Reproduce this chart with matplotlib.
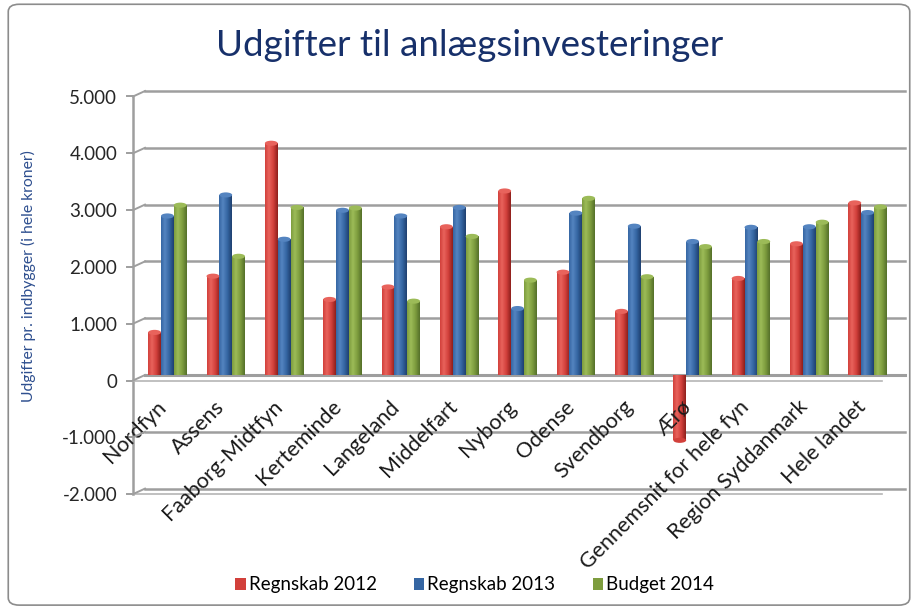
import numpy as np
import matplotlib
matplotlib.use("Agg")
import matplotlib.pyplot as plt
import matplotlib.transforms as mtransforms
from matplotlib.patches import FancyBboxPatch, Ellipse
from matplotlib.colors import LinearSegmentedColormap

categories = ["Nordfyn", "Assens", "Faaborg-Midtfyn", "Kerteminde", "Langeland",
              "Middelfart", "Nyborg", "Odense", "Svendborg", "Ærø",
              "Gennemsnit for hele fyn", "Region Syddanmark", "Hele landet"]
regnskab_2012 = [750, 1740, 4080, 1330, 1550, 2610, 3240, 1810, 1120, -1150, 1700, 2310, 3030]
regnskab_2013 = [2800, 3170, 2390, 2900, 2800, 2950, 1170, 2850, 2620, 2350, 2600, 2610, 2860]
budget_2014 = [2990, 2090, 2950, 2940, 1300, 2440, 1670, 3110, 1730, 2260, 2350, 2690, 2960]
series_names = ["Regnskab 2012", "Regnskab 2013", "Budget 2014"]
yticks = [-2000, -1000, 0, 1000, 2000, 3000, 4000, 5000]
ytick_labels = ["-2.000", "-1.000", "0", "1.000", "2.000", "3.000", "4.000", "5.000"]

# (dark, mid, light) shades for the cylinder look
shades = [("#8E1F1C", "#D2403B", "#E8635C"),
          ("#1F4070", "#3566A3", "#5484C0"),
          ("#55702A", "#7E9D3E", "#9CBB58")]
grid_col = "#9E9E9E"

plt.rcParams['font.family'] = ['Lato', 'DejaVu Sans']

fig = plt.figure(figsize=(9.18, 6.1), dpi=100)
fig.patches.append(FancyBboxPatch((0.009, 0.008), 0.982, 0.985, boxstyle="round,pad=0,rounding_size=0.012",
                                  transform=fig.transFigure, fill=False, edgecolor="#8C8C8C", linewidth=1.2))

# axes = back wall of the pseudo-3D plot; the front axis sits 12 px left and 5.5 px lower
ax = fig.add_axes([145 / 918, (610 - 488.6) / 610, (905 - 145) / 918, (488.6 - 91) / 610])
ax.set_xlim(-0.384, 12.64)
ax.set_ylim(-2000, 5000)
cap_h = 90  # height of the elliptic cap in data units (~5 px)

x = np.arange(len(categories))
w = 0.22
grad = np.linspace(0, 1, 64)
for k, vals in enumerate([regnskab_2012, regnskab_2013, budget_2014]):
    dark, mid, light = shades[k]
    cmap = LinearSegmentedColormap.from_list("c%d" % k, [(0, mid), (0.3, light), (0.65, mid), (1, dark)])
    bars = ax.bar(x + (k - 1) * w, vals, width=w, color=mid, edgecolor="none", zorder=3,
                  label=series_names[k])
    for b, v in zip(bars, vals):
        bx, by = b.get_x(), b.get_y()
        bw, bh = b.get_width(), b.get_height()
        im = ax.imshow(grad[np.newaxis, :], cmap=cmap, aspect="auto", zorder=3.5,
                       extent=(bx, bx + bw, by, by + bh), interpolation="bilinear")
        im.set_clip_path(b)
        ax.add_patch(Ellipse((bx + bw / 2, v), bw, cap_h, facecolor=light if v > 0 else mid,
                             edgecolor="none", zorder=3.6))

ax.set_aspect("auto")
ax.set_xlim(-0.384, 12.64)
ax.set_ylim(-2000, 5000)
ax.set_xticks([])
ax.set_yticks(yticks)
ax.set_yticklabels(ytick_labels, fontsize=13.5, color="#262626")
ax.tick_params(axis="y", length=0, pad=20)
down = mtransforms.ScaledTranslation(0, -5.5 / 100, fig.dpi_scale_trans)
front = mtransforms.ScaledTranslation(-12 / 100, -5.5 / 100, fig.dpi_scale_trans)
for lab in ax.get_yticklabels():
    lab.set_transform(lab.get_transform() + down)
for s in ax.spines.values():
    s.set_visible(False)

# gridlines on the back wall, tick stubs on the front axis, diagonals joining them
yt = ax.get_yaxis_transform()
for v in yticks:
    ax.plot([0.0, 1.0], [v, v], transform=yt, color=grid_col, lw=1.8 if v else 2.2, zorder=1, clip_on=False)
    ax.plot([-0.008, 0.0], [v, v], transform=yt + front, color=grid_col, lw=1.4, zorder=1, clip_on=False)
    p0 = (yt + front).transform((0.0, v))
    p1 = yt.transform((0.0, v))
    fig.add_artist(plt.Line2D([p0[0], p1[0]], [p0[1], p1[1]], transform=None, color=grid_col, lw=1.4))
ax.plot([0.0, 0.0], [-2000, 5000], transform=yt + front, color=grid_col, lw=1.8, zorder=1, clip_on=False)
# front edge of the floor slabs
for v in [0, -2000]:
    ax.plot([0.0, 0.985], [v, v], transform=yt + front, color="#B5B5B5", lw=1.2, zorder=1, clip_on=False)

for i, name in enumerate(categories):
    ax.text(i - 0.2, -380, name, rotation=45, ha="right", va="top", rotation_mode="anchor",
            fontsize=15.5, color="#1A1A1A", zorder=5)

ax.set_ylabel("Udgifter pr. indbygger (i hele kroner)", fontsize=11.3, color="#2E4F8F")
ax.yaxis.set_label_coords(-0.143, 0.535)

fig.text(0.512, 0.925, "Udgifter til anlægsinvesteringer", ha="center", va="center",
         fontsize=26.5, color="#17306A")

handles, labels = ax.get_legend_handles_labels()
fig.legend(handles, labels, loc="center", bbox_to_anchor=(0.517, 0.041), ncol=3, frameon=False,
           fontsize=13.5, handlelength=0.55, handleheight=0.55, handletextpad=0.15, columnspacing=2.0)

fig.savefig("out.png", dpi=100)
